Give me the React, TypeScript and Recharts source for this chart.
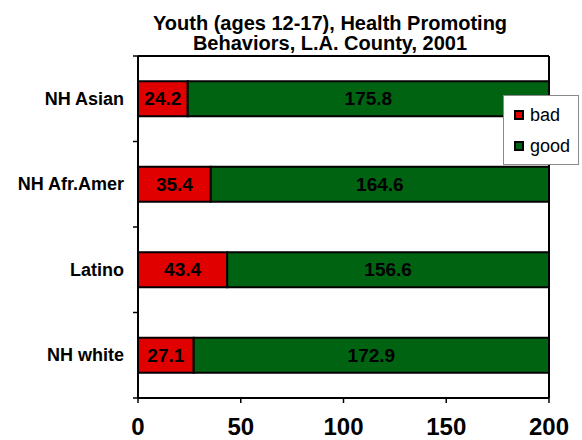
import { BarChart, Bar, XAxis, YAxis, Legend, LabelList, CartesianGrid } from 'recharts';

const groups = ['NH Asian', 'NH Afr.Amer', 'Latino', 'NH white'];
const bad = [24.2, 35.4, 43.4, 27.1];
const good = [175.8, 164.6, 156.6, 172.9];
const xTicks = [0, 50, 100, 150, 200];

const FONT = '"Liberation Sans", Arial, sans-serif';
const RED = '#e00000';
const GREEN = '#006311';

const WIDTH = 582;
const HEIGHT = 440;
const MARGIN = { top: 56, right: 33, bottom: 0, left: 0 };
const X_AXIS_HEIGHT = 42;
// height of one category band, used for the boundary tick marks on the y axis
const BAND = (HEIGHT - MARGIN.top - X_AXIS_HEIGHT) / groups.length;

const data = groups.map((group, i) => ({ group, bad: bad[i], good: good[i] }));

function GroupTick(props: any) {
  const { x, y, payload, index } = props;
  const half = BAND / 2;
  return (
    <g>
      <text
        x={x}
        y={y}
        dy={6}
        textAnchor="end"
        fontSize={18}
        fontWeight="bold"
        fontFamily={FONT}
        fill="#000"
      >
        {payload.value}
      </text>
      <line x1={x + 9} x2={x + 14} y1={y - half} y2={y - half} stroke="#000" strokeWidth={1.5} />
      {index === groups.length - 1 && (
        <line x1={x + 9} x2={x + 14} y1={y + half} y2={y + half} stroke="#000" strokeWidth={1.5} />
      )}
    </g>
  );
}

function LegendBox({ payload }: any) {
  return (
    <div
      style={{
        border: '1px solid #8a8a8a',
        background: '#fff',
        padding: '3px 0 5px 0',
        boxSizing: 'border-box',
        width: 76,
        height: 70,
      }}
    >
      {(payload || []).map((entry: any) => (
        <div key={entry.value} style={{ display: 'flex', alignItems: 'center', height: 31 }}>
          <span
            style={{
              display: 'inline-block',
              width: 10,
              height: 10,
              boxSizing: 'border-box',
              border: '2px solid #000',
              background: entry.color,
              marginLeft: 10,
              marginRight: 6,
            }}
          />
          <span style={{ fontFamily: FONT, fontSize: 18, color: '#000', lineHeight: '18px' }}>
            {entry.value}
          </span>
        </div>
      ))}
    </div>
  );
}

const valueLabel = {
  position: 'center' as const,
  fill: '#000',
  fontSize: 19,
  fontWeight: 'bold',
  fontFamily: FONT,
};

export default function App() {
  return (
    <div
      style={{
        position: 'absolute',
        left: 0,
        top: 0,
        width: WIDTH,
        height: HEIGHT,
        background: '#fff',
      }}
    >
      <div
        style={{
          position: 'absolute',
          left: 130,
          top: 13,
          width: 400,
          textAlign: 'center',
          fontFamily: FONT,
          fontWeight: 'bold',
          fontSize: 20,
          lineHeight: '20px',
          color: '#000',
          zIndex: 1,
        }}
      >
        Youth (ages 12-17), Health Promoting
        <br />
        Behaviors, L.A. County, 2001
      </div>
      <BarChart
        width={WIDTH}
        height={HEIGHT}
        data={data}
        layout="vertical"
        margin={MARGIN}
        barCategoryGap="29.5%"
      >
        {/* top and right edges of the plot frame */}
        <CartesianGrid
          stroke="#000"
          strokeWidth={2}
          horizontalCoordinatesGenerator={({ offset }: any) => [offset.top]}
          verticalCoordinatesGenerator={({ offset }: any) => [offset.left + offset.width]}
        />
        <XAxis
          type="number"
          domain={[0, 200]}
          ticks={xTicks}
          interval={0}
          height={X_AXIS_HEIGHT}
          axisLine={{ stroke: '#000', strokeWidth: 2 }}
          tickLine={{ stroke: '#000', strokeWidth: 1.5 }}
          tickSize={5}
          tickMargin={15}
          tick={{ fill: '#000', fontSize: 24, fontWeight: 'bold', fontFamily: FONT }}
        />
        <YAxis
          type="category"
          dataKey="group"
          width={138}
          axisLine={{ stroke: '#000', strokeWidth: 2 }}
          tickLine={false}
          tickSize={0}
          tickMargin={14}
          tick={<GroupTick />}
        />
        <Legend
          layout="vertical"
          align="center"
          verticalAlign="middle"
          content={<LegendBox />}
          wrapperStyle={{ position: 'absolute', left: 503, top: 95, width: 76, height: 70 }}
        />
        <Bar dataKey="bad" name="bad" stackId="a" fill={RED} stroke="#000" strokeWidth={2} isAnimationActive={false}>
          <LabelList dataKey="bad" {...valueLabel} />
        </Bar>
        <Bar dataKey="good" name="good" stackId="a" fill={GREEN} stroke="#000" strokeWidth={2} isAnimationActive={false}>
          <LabelList dataKey="good" {...valueLabel} />
        </Bar>
      </BarChart>
    </div>
  );
}
